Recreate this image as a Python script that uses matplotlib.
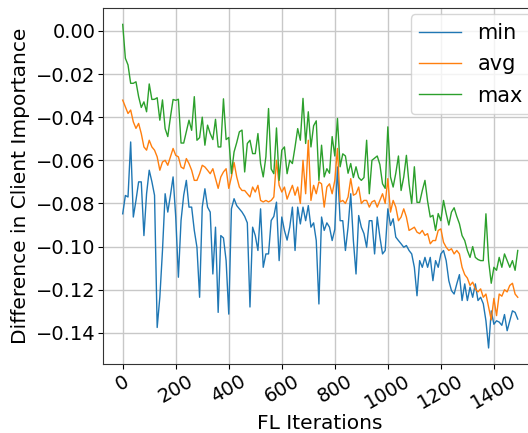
import numpy as np
import matplotlib
matplotlib.use("Agg")
import matplotlib.pyplot as plt

iterations = list(range(0, 1500, 10))

max_vals = [
    0.003, -0.0127, -0.0158, -0.0243, -0.0243, -0.0236, -0.0305, -0.0355, -0.0329, -0.0375,
    -0.0246, -0.0318, -0.0317, -0.031, -0.0414, -0.032, -0.0453, -0.049, -0.040, -0.0318,
    -0.0322, -0.0317, -0.052, -0.052, -0.0468, -0.0414, -0.0461, -0.0305, -0.0507, -0.0495,
    -0.040, -0.053, -0.0437, -0.0476, -0.0504, -0.041, -0.0538, -0.0538, -0.0315, -0.0504,
    -0.0494, -0.0662, -0.0561, -0.0518, -0.0468, -0.046, -0.0654, -0.0522, -0.0507, -0.0569,
    -0.0569, -0.0476, -0.0615, -0.0677, -0.0584, -0.036, -0.064, -0.0662, -0.045, -0.0693,
    -0.0553, -0.0538, -0.0662, -0.060, -0.0615, -0.0538, -0.0453, -0.0507, -0.0313, -0.0522,
    -0.0375, -0.0538, -0.044, -0.0417, -0.0693, -0.053, -0.0677, -0.0639, -0.066, -0.049,
    -0.058, -0.0406, -0.063, -0.057, -0.058, -0.066, -0.0615, -0.068, -0.063, -0.068,
    -0.0693, -0.068, -0.0507, -0.0755, -0.060, -0.059, -0.058, -0.062, -0.0709, -0.073,
    -0.0445, -0.0677, -0.0724, -0.066, -0.058, -0.074, -0.0677, -0.0577, -0.071, -0.080,
    -0.063, -0.0795, -0.0795, -0.074, -0.0693, -0.079, -0.0863, -0.0855, -0.0925, -0.0847,
    -0.088, -0.0786, -0.0847, -0.090, -0.084, -0.082, -0.086, -0.0894, -0.0949, -0.0972,
    -0.1018, -0.105, -0.100, -0.105, -0.106, -0.1065, -0.1065, -0.0848, -0.1065, -0.117,
    -0.1096, -0.111, -0.105, -0.1096, -0.1034, -0.1065, -0.1096, -0.1065, -0.111, -0.1018,
]

avg_vals = [
    -0.0321, -0.0352, -0.0383, -0.0367, -0.0422, -0.0452, -0.0429, -0.0476, -0.0538, -0.0553,
    -0.0507, -0.0538, -0.0553, -0.0584, -0.0646, -0.0608, -0.060, -0.0623, -0.0584, -0.0545,
    -0.0577, -0.0584, -0.0631, -0.0639, -0.0592, -0.0615, -0.0646, -0.0693, -0.0693, -0.0662,
    -0.0623, -0.0631, -0.0646, -0.0662, -0.0639, -0.0685, -0.073, -0.0677, -0.0654, -0.0639,
    -0.073, -0.0677, -0.061, -0.0677, -0.0724, -0.074, -0.074, -0.0755, -0.077, -0.0724,
    -0.0747, -0.0716, -0.0786, -0.0793, -0.0786, -0.0793, -0.0786, -0.077, -0.060, -0.0716,
    -0.0747, -0.0724, -0.078, -0.0747, -0.0716, -0.0762, -0.0724, -0.080, -0.060, -0.0755,
    -0.0507, -0.0786, -0.0716, -0.0755, -0.070, -0.0709, -0.0817, -0.0724, -0.0709, -0.0755,
    -0.0693, -0.0545, -0.0793, -0.0786, -0.080, -0.077, -0.0685, -0.0762, -0.0755, -0.0724,
    -0.080, -0.0786, -0.0786, -0.0817, -0.0793, -0.0786, -0.0817, -0.0786, -0.0755, -0.080,
    -0.0685, -0.084, -0.0786, -0.0817, -0.088, -0.0863, -0.0825, -0.0863, -0.0925, -0.0918,
    -0.091, -0.0933, -0.094, -0.0925, -0.0948, -0.094, -0.0987, -0.0972, -0.0972, -0.0925,
    -0.0918, -0.098, -0.1003, -0.1018, -0.101, -0.1034, -0.1018, -0.1034, -0.1096, -0.113,
    -0.1146, -0.118, -0.1165, -0.1196, -0.121, -0.1196, -0.1235, -0.122, -0.128, -0.134,
    -0.124, -0.132, -0.122, -0.123, -0.120, -0.121, -0.118, -0.117, -0.122, -0.1235,
]

min_vals = [
    -0.0848, -0.0763, -0.077, -0.0515, -0.0863, -0.0786, -0.070, -0.070, -0.0949, -0.0755,
    -0.0646, -0.0699, -0.0762, -0.1375, -0.1235, -0.1018, -0.0755, -0.084, -0.0762, -0.0677,
    -0.0863, -0.1142, -0.0879, -0.0762, -0.0693, -0.0817, -0.0817, -0.0925, -0.1003, -0.1235,
    -0.0817, -0.0732, -0.0817, -0.084, -0.1127, -0.091, -0.1305, -0.0949, -0.096, -0.1065,
    -0.1313, -0.0825, -0.0778, -0.081, -0.0825, -0.084, -0.086, -0.089, -0.128, -0.091,
    -0.0949, -0.1018, -0.0825, -0.1096, -0.1034, -0.1034, -0.0879, -0.086, -0.0794, -0.1065,
    -0.0863, -0.0925, -0.097, -0.091, -0.0817, -0.1018, -0.0817, -0.0895, -0.0817, -0.088,
    -0.081, -0.091, -0.089, -0.0972, -0.1266, -0.0863, -0.0925, -0.089, -0.091, -0.0972,
    -0.092, -0.0631, -0.088, -0.088, -0.1018, -0.091, -0.0755, -0.0972, -0.1127, -0.0856,
    -0.091, -0.094, -0.1003, -0.088, -0.088, -0.1034, -0.0863, -0.0956, -0.1034, -0.1018,
    -0.0825, -0.0902, -0.0871, -0.0956, -0.0972, -0.0987, -0.1003, -0.0995, -0.1018, -0.1034,
    -0.1096, -0.1228, -0.1065, -0.1096, -0.105, -0.1096, -0.105, -0.1158, -0.1065, -0.1096,
    -0.1034, -0.1018, -0.1065, -0.1158, -0.1204, -0.122, -0.1173, -0.113, -0.125, -0.1173,
    -0.125, -0.1188, -0.1235, -0.1173, -0.125, -0.1235, -0.1265, -0.1344, -0.147, -0.1298,
    -0.136, -0.1344, -0.135, -0.1365, -0.1315, -0.139, -0.1344, -0.1298, -0.1305, -0.1336,
]

series_labels = ["min", "avg", "max"]
x_label = "FL Iterations"
y_label = "Difference in Client Importance"

fig = plt.figure(figsize=(5.28, 4.33), dpi=100)
ax = fig.add_axes([0.195, 0.159, 0.823, 0.822])

ax.plot(iterations, min_vals, color="#1f77b4", linewidth=1.0, label=series_labels[0])
ax.plot(iterations, avg_vals, color="#ff7f0e", linewidth=1.0, label=series_labels[1])
ax.plot(iterations, max_vals, color="#2ca02c", linewidth=1.0, label=series_labels[2])

ax.set_xticks([0, 200, 400, 600, 800, 1000, 1200, 1400])
ax.set_yticks([0.0, -0.02, -0.04, -0.06, -0.08, -0.10, -0.12, -0.14])
ax.grid(True, color="#c8c8c8", linewidth=1.0)
ax.set_axisbelow(True)
for s in ax.spines.values():
    s.set_color("#333333")

ax.tick_params(axis="both", labelsize=14, pad=2)
for lbl in ax.get_xticklabels():
    lbl.set_rotation(30)
    lbl.set_ha("center")

ax.set_xlabel(x_label, fontsize=14.5, labelpad=1)
ax.set_ylabel(y_label, fontsize=14.5, labelpad=4)

ax.legend(loc="upper right", fontsize=15, handlelength=2.0, borderaxespad=0.3,
          labelspacing=0.55, handletextpad=0.8)

fig.savefig("out.png", dpi=100)
